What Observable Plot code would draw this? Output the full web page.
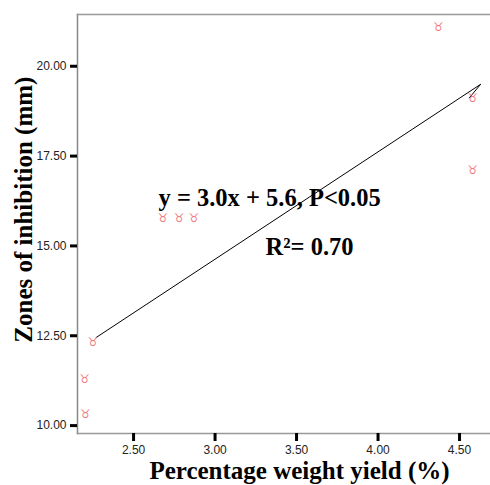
<!DOCTYPE html>
<html>
<head>
<meta charset="utf-8">
<script src="https://cdn.jsdelivr.net/npm/d3@7"></script>
<script src="https://cdn.jsdelivr.net/npm/@observablehq/plot@0.6"></script>
<style>
  html, body { margin: 0; padding: 0; background: #fff; }
</style>
</head>
<body>
<div id="chart"></div>
<script>
// Observed points: percentage weight yield (%) vs zone of inhibition (mm)
const yieldPct = [2.205, 2.20, 2.25, 2.68, 2.78, 2.87, 4.37, 4.58, 4.58];
const zoneMm   = [10.33, 11.30, 12.33, 15.78, 15.78, 15.78, 21.10, 19.12, 17.12];

// Fitted regression line (y = 3.0x + 5.6) as drawn
const fitX = [2.27, 4.63, 4.56];
const fitY = [12.45, 19.50, 19.12];

const xTicks = [2.5, 3.0, 3.5, 4.0, 4.5];
const yTicks = [10, 12.5, 15, 17.5, 20];

const equationText = "y = 3.0x + 5.6, P<0.05";
const r2Text = "R\u00b2= 0.70";
const xTitle = "Percentage weight yield (%)";
const yTitle = "Zones of inhibition (mm)";

const points = yieldPct.map((x, i) => ({x, y: zoneMm[i]}));
const fit = fitX.map((x, i) => ({x, y: fitY[i]}));

const serif = "'Liberation Serif', 'Times New Roman', serif";

const chart = Plot.plot({
  width: 490,
  height: 485,
  marginLeft: 77,
  marginTop: 14,
  marginRight: 0,
  marginBottom: 52,
  style: {fontFamily: "'Liberation Sans', Arial, sans-serif", background: "#fff", overflow: "visible"},
  x: {domain: [2.156, 4.69], ticks: xTicks},
  y: {domain: [9.78, 21.44], ticks: yTicks},
  marks: [
    Plot.frame({anchor: "left", stroke: "#888", strokeWidth: 1.5}),
    Plot.frame({anchor: "top", stroke: "#999", strokeWidth: 1.5}),
    Plot.frame({anchor: "bottom", stroke: "#999", strokeWidth: 1.5}),
    Plot.axisX({ticks: xTicks, tickSize: 8, tickPadding: 4, strokeWidth: 3, stroke: "#000",
      tickFormat: d => d.toFixed(2), fontSize: 12, fill: "#222", label: null}),
    Plot.axisY({ticks: yTicks, tickSize: 7, tickPadding: 4, strokeWidth: 3, stroke: "#000",
      tickFormat: d => d.toFixed(2), fontSize: 12, fill: "#222", label: null}),
    Plot.line(fit, {x: "x", y: "y", stroke: "#000", strokeWidth: 1}),
    Plot.text(points, {x: "x", y: "y", text: () => "\u2649", fill: "#f27a80",
      fontSize: 12, fontFamily: "'DejaVu Sans', sans-serif"}),
    Plot.text([equationText], {x: 2.653, y: 16.17, text: d => d, textAnchor: "start",
      lineAnchor: "bottom", fontSize: 24.5, fontWeight: "bold", fontFamily: serif, fill: "#000", dy: 2}),
    Plot.text([r2Text], {x: 3.31, y: 14.80, text: d => d, textAnchor: "start",
      lineAnchor: "bottom", fontSize: 24.5, fontWeight: "bold", fontFamily: serif, fill: "#000", dy: 2}),
    Plot.text([xTitle], {x: 3.518, y: 8.47, text: d => d, lineAnchor: "bottom", dy: -2,
      fontSize: 25, fontWeight: "bold", fontFamily: serif, fill: "#000"}),
    Plot.text([yTitle], {x: 1.874, y: 16.01, text: d => d, rotate: -90, lineAnchor: "bottom",
      fontSize: 25, fontWeight: "bold", fontFamily: serif, fill: "#000"})
  ]
});

document.getElementById("chart").appendChild(chart);
</script>
</body>
</html>
